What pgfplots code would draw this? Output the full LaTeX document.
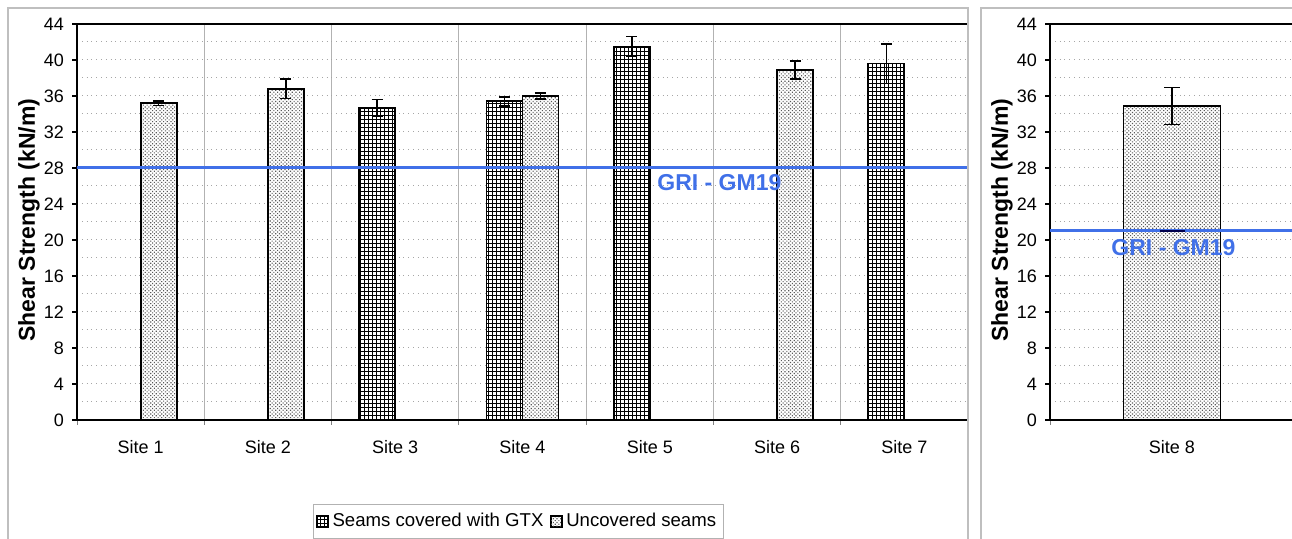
\documentclass[border=0pt]{standalone}
\usepackage{fontspec}
\setmainfont{Liberation Sans}
\usepackage{pgfplots}
\pgfplotsset{compat=1.18}
\usetikzlibrary{patterns.meta}

\definecolor{gri}{RGB}{64,112,232}

% 1 px of the reference = 0.5pt
\tikzset{
  gtx/.style={draw=black, line width=0.9pt, preaction={fill=white},
    pattern={Hatch[angle=0,distance=2pt,line width=0.42pt]}, pattern color=black},
  unc/.style={draw=black, line width=0.9pt, preaction={fill=white},
    pattern={Dots[angle=45,distance=1.3pt,radius=0.4pt]}, pattern color=black!65},
}

\pgfplotsset{
  panel/.style={
    scale only axis, height=198pt,
    ymin=0, ymax=44, ytick={0,4,...,44}, minor ytick={2,6,...,42},
    ymajorgrids, yminorgrids,
    major y grid style={gray!70, dotted, line width=0.5pt},
    minor y grid style={gray!70, dotted, line width=0.5pt},
    minor y tick style={draw=none},
    major x tick style={draw=none},
    minor x tick style={gray, line width=0.5pt},
    y tick style={black, line width=0.6pt},
    axis line style={line width=1pt, black},
    tick align=outside, tick pos=left,
    major tick length=2.5pt, minor tick length=2.5pt,
    tick label style={font=\fontsize{9}{10}\selectfont},
    /pgf/number format/assume math mode=true,
    every axis y label/.style={at={(axis description cs:0,0.5)}, rotate=90,
      anchor=center, yshift=24pt, xshift=1pt},
    ylabel style={font=\fontsize{11.5}{13}\selectfont\bfseries},
    ylabel={Shear Strength (kN/m)},
    yticklabel style={xshift=-0.5pt},
    xticklabel style={yshift=-4pt},
  },
  ebars/.style={error bars/.cd, y dir=both, y explicit,
    error bar style={line width=0.75pt, black},
    error mark options={rotate=90, mark size=#1, line width=0.75pt, black}},
}

\begin{document}
\begin{tikzpicture}

% bars of a pair sit 0.1414 (9pt) either side of the site's centre
\begin{axis}[panel, at={(38.5pt,59.5pt)}, anchor=south west, width=445.5pt,
  xmin=0.5, xmax=7.5, xtick={1,...,7},
  xticklabels={Site 1,Site 2,Site 3,Site 4,Site 5,Site 6,Site 7},
  minor xtick={0.5,1.5,...,7.5},
  xminorgrids, minor x grid style={gray!60, line width=0.6pt},
  legend columns=2,
  legend style={at={(0.4955,-0.212)}, anchor=north, draw=gray!60, line width=0.5pt,
    font=\fontsize{9.3}{11}\selectfont, inner xsep=1.5pt, inner ysep=2.5pt,
    /tikz/every even column/.append style={column sep=1.5pt}},
  ]
\addplot[ybar, bar width=18pt, bar shift=0pt, gtx,
  legend image code/.code={\draw[gtx, line width=0.4pt] (0pt,-2.75pt) rectangle (5.5pt,2.75pt);},
  ebars=2.75pt]
  coordinates {(2.8586,34.7) +- (0,0.9) (3.8586,35.4) +- (0,0.5) (4.8586,41.5) +- (0,1.1) (6.8586,39.6) +- (0,2.2)};
\addlegendentry{Seams covered with GTX}
\addplot[ybar, bar width=18pt, bar shift=0pt, unc,
  legend image code/.code={\draw[unc, line width=0.4pt] (0pt,-2.75pt) rectangle (5.5pt,2.75pt);},
  ebars=2.75pt]
  coordinates {(1.1414,35.2) +- (0,0.25) (2.1414,36.8) +- (0,1.1) (4.1414,36.0) +- (0,0.35) (6.1414,38.9) +- (0,1.0)};
\addlegendentry{Uncovered seams}
\addplot[gri, line width=1.5pt, forget plot] coordinates {(0.5,28) (7.5,28)};
\node[gri, font=\fontsize{11.5}{13}\selectfont\bfseries] at (axis cs:5.547,26.33) {GRI - GM19};
\end{axis}

\begin{axis}[panel, at={(525pt,59.5pt)}, anchor=south west, width=122pt,
  xmin=0.5, xmax=1.5, xtick={1}, xticklabels={Site 8},
  minor xtick={0.5},
  ]
\addplot[ybar, bar width=48.5pt, bar shift=0pt, unc, ebars=4pt]
  coordinates {(1,34.9) +- (0,2.05)};
\addplot[gri, line width=1.5pt] coordinates {(0.5,21) (1.5,21)};
\addplot[only marks, mark=-, mark size=6.25pt, mark options={line width=1.2pt}, black!70!blue]
  coordinates {(1,21)};
\node[gri, font=\fontsize{11.5}{13}\selectfont\bfseries] at (axis cs:1.006,19.17) {GRI - GM19};
\end{axis}

\draw[gray!50, line width=0.7pt] (4pt,-2pt) |- (484pt,265.5pt) -- (484pt,-2pt);
\draw[gray!50, line width=0.7pt] (490.5pt,-2pt) |- (650pt,265.5pt);

\pgfresetboundingbox
\path (0,0) rectangle (646pt,269.5pt);
\end{tikzpicture}
\end{document}
